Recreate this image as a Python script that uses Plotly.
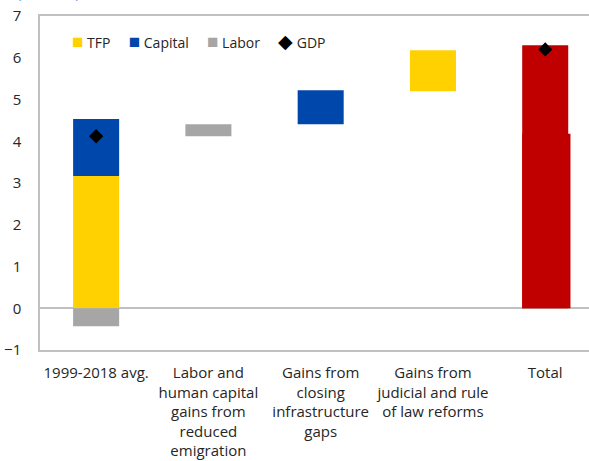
import plotly.graph_objects as go

# Categories along the x axis
categories = [
    "1999-2018 avg.",
    "Labor and<br>human capital<br>gains from<br>reduced<br>emigration",
    "Gains from<br>closing<br>infrastructure<br>gaps",
    "Gains from<br>judicial and rule<br>of law reforms",
    "Total",
]

# Contributions (percentage points) and the level each floating bar starts from
tfp_x = [categories[0], categories[3]]
tfp_val = [3.17, 0.98]
tfp_base = [0.0, 5.20]

capital_x = [categories[0], categories[2]]
capital_val = [1.36, 0.81]
capital_base = [3.17, 4.41]

labor_x = [categories[0], categories[1]]
labor_val = [-0.43, 0.29]
labor_base = [0.0, 4.12]

total_x = [categories[4]]
total_val = [6.30]
total_lower_val = [4.18]

gdp_x = [categories[0], categories[4]]
gdp_val = [4.12, 6.20]

y_ticks = [-1, 0, 1, 2, 3, 4, 5, 6, 7]

legend_labels = ["TFP", "Capital", "Labor", "GDP"]

YELLOW = "#FFD100"
BLUE = "#0047AB"
GRAY = "#A6A6A6"
RED = "#C00000"
AXIS = "#C0C0C0"
TEXT = "#262626"
FONT = "Open Sans, Noto Sans, sans-serif"

W = 0.41

fig = go.Figure()
fig.add_trace(go.Bar(x=tfp_x, y=tfp_val, base=tfp_base, name="TFP",
                     marker=dict(color=YELLOW, line_width=0), width=W))
fig.add_trace(go.Bar(x=capital_x, y=capital_val, base=capital_base, name="Capital",
                     marker=dict(color=BLUE, line_width=0), width=W))
fig.add_trace(go.Bar(x=labor_x, y=labor_val, base=labor_base, name="Labor",
                     marker=dict(color=GRAY, line_width=0), width=W))
fig.add_trace(go.Bar(x=total_x, y=total_val, name="Total",
                     marker=dict(color=RED, line_width=0), width=W))
fig.add_trace(go.Bar(x=total_x, y=total_lower_val, name="Total",
                     marker=dict(color=RED, line_width=0), width=W + 0.02, offset=-W / 2))
fig.add_trace(go.Scatter(x=gdp_x, y=gdp_val, name="GDP", mode="markers",
                         marker=dict(symbol="diamond", color="black", size=11)))

# compact legend drawn as a row of text entries with coloured glyphs
SQ = "<span style='color:{c};font-size:19px'>{g}</span>&nbsp;{t}"
GAP = "&nbsp;" * 5
legend_text = GAP.join([
    SQ.format(c=YELLOW, g="■", t=legend_labels[0]),
    SQ.format(c=BLUE, g="■", t=legend_labels[1]),
    SQ.format(c=GRAY, g="■", t=legend_labels[2]),
    SQ.format(c="black", g="◆", t=legend_labels[3]),
])

fig.update_layout(
    width=589, height=461,
    margin=dict(l=40, r=0, t=16, b=111),
    barmode="overlay",
    plot_bgcolor="white", paper_bgcolor="white",
    font=dict(family=FONT, size=15, color=TEXT),
    showlegend=False,
    xaxis=dict(range=[-0.5, 4.39], categoryorder="array", categoryarray=categories,
               showline=True, mirror=True, linecolor=AXIS, linewidth=2, ticks="",
               showgrid=False, ticklabelstandoff=8, tickfont=dict(size=15)),
    yaxis=dict(range=[-1, 7], tickvals=y_ticks, showline=True, linecolor=AXIS,
               linewidth=1.5, showgrid=False, zeroline=True, zerolinecolor=AXIS,
               zerolinewidth=1.5, ticks="", ticklabelstandoff=14,
               tickfont=dict(size=15)),
    annotations=[
        dict(text="(Percent)", xref="paper", yref="paper", x=-0.045, y=1.036,
             xanchor="left", yanchor="bottom", showarrow=False,
             font=dict(size=15, color="#5B9BD5")),
        dict(text=legend_text, xref="paper", yref="paper", x=0.055, y=0.925,
             xanchor="left", yanchor="middle", showarrow=False,
             font=dict(size=14, color=TEXT)),
    ],
)

fig.write_html("out.html")
